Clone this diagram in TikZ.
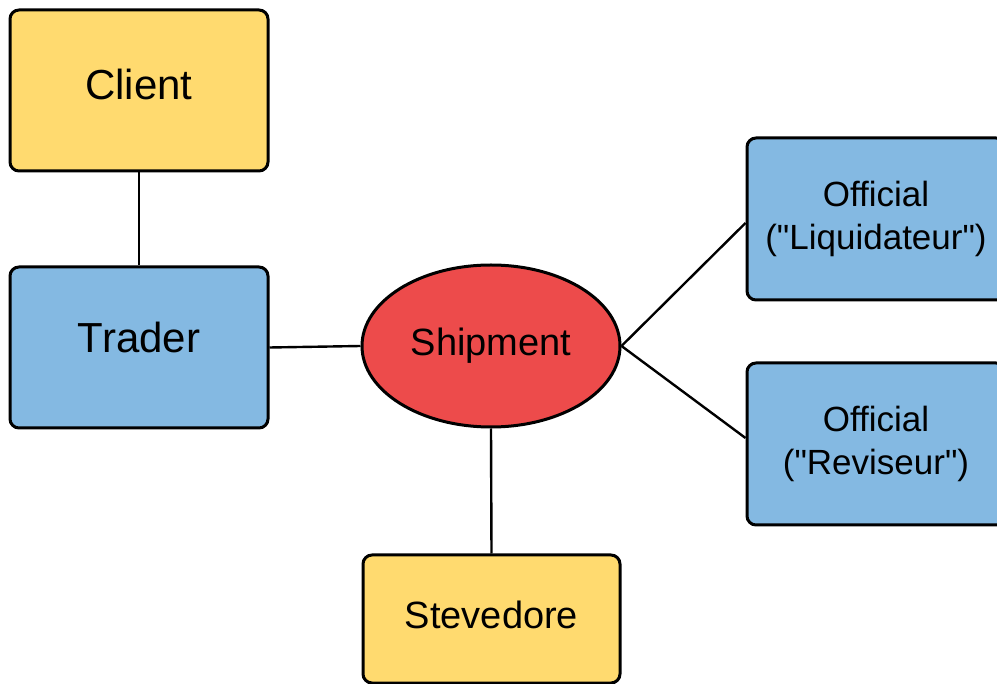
\documentclass[tikz,border=0pt]{standalone}
\usepackage{fontspec}
\setmainfont{Liberation Sans}[Ligatures=TeXOff]
\usetikzlibrary{shapes.geometric}
\definecolor{boxyellow}{RGB}{255,218,111}
\definecolor{boxblue}{RGB}{132,185,226}
\definecolor{shipred}{RGB}{237,75,75}
\tikzset{
  box/.style={draw=black, line width=3pt, rounded corners=9pt, minimum width=258pt, minimum height=161pt, inner sep=0pt, align=center, text=black},
  ybox/.style={box, fill=boxyellow},
  bbox/.style={box, fill=boxblue},
  conn/.style={draw=black, line width=2.4pt},
}
\begin{document}
\begin{tikzpicture}[x=1pt,y=-1pt]
\useasboundingbox (0,0) rectangle (997,684);
\node[ybox, font=\fontsize{42}{46}\selectfont, text height=31pt, text depth=13pt] (client) at (139,90.5) {Client};
\node[bbox, font=\fontsize{42}{46}\selectfont, text height=31pt, text depth=20pt] (trader) at (139,347.5) {Trader};
\node[draw=black, line width=3pt, ellipse, fill=shipred, minimum width=258pt, minimum height=162pt, inner sep=0pt, font=\fontsize{38}{42}\selectfont] (ship) at (491,346) {Shipment};
\node[ybox, minimum width=257pt, minimum height=128pt, font=\fontsize{38}{42}\selectfont, text height=28pt, text depth=9.5pt] (stev) at (491.5,619) {Stevedore};
\node[bbox, minimum height=162pt, font=\fontsize{35}{43}\selectfont] (liq) at (876,219) {Official\\("Liquidateur")};
\node[bbox, minimum height=162pt, font=\fontsize{35}{43}\selectfont] (rev) at (876,444) {Official\\("Reviseur")};
\draw[conn] (client.south) -- (trader.north);
\draw[conn] (trader.east) -- (ship.west);
\draw[conn] (ship.south) -- (stev.north);
\draw[conn] (ship.east) -- ([yshift=-4pt]liq.west);
\draw[conn] (ship.east) -- ([yshift=6pt]rev.west);
\end{tikzpicture}
\end{document}
